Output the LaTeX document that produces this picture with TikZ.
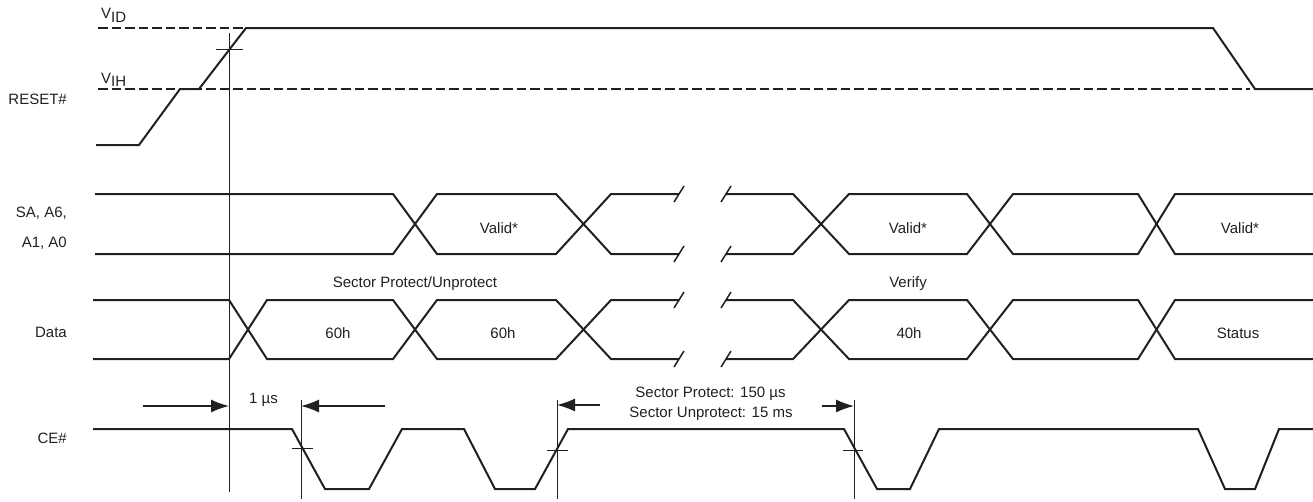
\documentclass[tikz,border=0pt]{standalone}
\usepackage{fontspec}
\setmainfont{Liberation Sans}
\usetikzlibrary{arrows.meta}
\definecolor{ink}{RGB}{35,31,32}
\begin{document}
\begin{tikzpicture}[x=1pt,y=-1pt,
  wave/.style={draw=ink, line width=2pt, line join=miter},
  refline/.style={draw=ink, line width=0.9pt},
  tick/.style={draw=ink, line width=0.9pt},
  breakmark/.style={draw=ink, line width=1.5pt},
  level/.style={draw=ink, line width=1.8pt, dash pattern=on 9.5pt off 4pt},
  lbl/.style={text=ink, font=\fontsize{15}{18}\selectfont, inner sep=0pt, anchor=base},
  sig/.style={text=ink, font=\fontsize{15}{18}\selectfont, inner sep=0pt, anchor=base east},
  dimarrow/.style={draw=ink, line width=1.3pt, -{Latex[length=18pt,width=13pt]}}]
\useasboundingbox (0,0) rectangle (1313,501);

% signal names
\node[sig] (nreset) at (67,104) {RESET\#};
\node[sig] (nsa) at (67,217) {SA, A6,};
\node[sig] (na1) at (67,247) {A1, A0};
\node[sig] (ndata) at (67,337) {Data};
\node[sig] (nce) at (67,443) {CE\#};

% voltage levels
\node[lbl, anchor=base west] (vid) at (101,18.5) {V\raisebox{-3.5pt}{ID}};
\node[lbl, anchor=base west] (vih) at (101,83.3) {V\raisebox{-3.5pt}{IH}};
\draw[level] (98,28) -- (265,28);
\draw[level] (98,89) -- (1250,89);

% RESET#
\draw[wave] (96,145) -- (139,145) -- (180,89) -- (199,89) -- (246,28)
  -- (1213,28) -- (1255,89) -- (1313,89);

% SA, A6, A1, A0
\draw[wave] (95,194) -- (393,194) -- (437,254) -- (556,254) -- (611,194) -- (679,194);
\draw[wave] (95,254) -- (393,254) -- (437,194) -- (556,194) -- (611,254) -- (679,254);
\draw[wave] (726,194) -- (793,194) -- (849,254) -- (967,254) -- (1013,194)
  -- (1138,194) -- (1175,254) -- (1313,254);
\draw[wave] (726,254) -- (793,254) -- (849,194) -- (967,194) -- (1013,254)
  -- (1138,254) -- (1175,194) -- (1313,194);

% Data
\draw[wave] (93,300) -- (229,300) -- (267,359) -- (393,359) -- (437,300) -- (556,300) -- (611,359) -- (679,359);
\draw[wave] (93,359) -- (229,359) -- (267,300) -- (393,300) -- (437,359) -- (556,359) -- (611,300) -- (679,300);
\draw[wave] (726,300) -- (793,300) -- (849,359) -- (967,359) -- (1013,300)
  -- (1138,300) -- (1175,359) -- (1313,359);
\draw[wave] (726,359) -- (793,359) -- (849,300) -- (967,300) -- (1013,359)
  -- (1138,359) -- (1175,300) -- (1313,300);

% break marks
\foreach \px/\py in {679/194,679/254,679/300,679/359,726/194,726/254,726/300,726/359}
  \draw[breakmark] (\px-5,\py+8) -- (\px+5,\py-8);

% CE#
\draw[wave] (93,429) -- (292,429) -- (325,489) -- (369,489) -- (402,429) -- (464,429)
  -- (495,489) -- (535,489) -- (568,429) -- (844,429) -- (877,489) -- (910,489)
  -- (939,429) -- (1198,429) -- (1225,489) -- (1255,489) -- (1279,429) -- (1313,429);

% reference lines and crossing ticks
\draw[refline] (229,33) -- (229,492);
\draw[refline] (301,400) -- (301,499);
\draw[refline] (557,400) -- (557,499);
\draw[refline] (854,400) -- (854,499);
\draw[tick] (216,49) -- (243,49);
\draw[tick] (292,448) -- (313,448);
\draw[tick] (547,450) -- (568,450);
\draw[tick] (843,450) -- (863,450);

% field labels
\node[lbl] (v1) at (499,233) {Valid*};
\node[lbl] (v2) at (908,233) {Valid*};
\node[lbl] (v3) at (1240,233) {Valid*};
\node[lbl] (d1) at (338,338) {60h};
\node[lbl] (d2) at (503,338) {60h};
\node[lbl] (d3) at (909,338) {40h};
\node[lbl] (d4) at (1238,338) {Status};
\node[lbl] (spu) at (415,287) {Sector Protect/Unprotect};
\node[lbl] (ver) at (908,287) {Verify};

% timing annotations
\node[lbl] (t1) at (263.5,403) {1 µs};
\node[lbl] (t2) at (710.5,397) {Sector Protect: 150 µs};
\node[lbl] (t3) at (711,417) {Sector Unprotect: 15 ms};
\coordinate (a1s) at (143,406);
\coordinate (a1e) at (229,406);
\coordinate (a2s) at (385,406);
\coordinate (a2e) at (301,406);
\coordinate (a3s) at (600,405);
\coordinate (a3e) at (557,405);
\coordinate (a4s) at (822,406);
\coordinate (a4e) at (854,406);
\draw[dimarrow] (a1s) -- (a1e);
\draw[dimarrow] (a2s) -- (a2e);
\draw[dimarrow] (a3s) -- (a3e);
\draw[dimarrow] (a4s) -- (a4e);
\end{tikzpicture}
\end{document}
